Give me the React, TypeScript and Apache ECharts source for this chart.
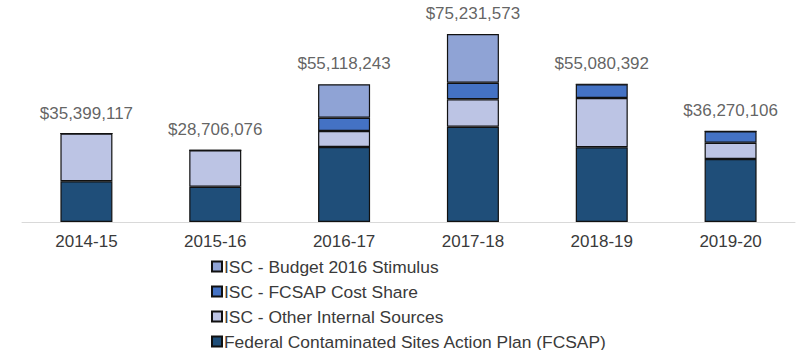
import React, { useEffect, useRef } from "react";
import * as echarts from "echarts";

const categories = ["2014-15", "2015-16", "2016-17", "2017-18", "2018-19", "2019-20"];
// values in millions of dollars
const fcsap = [16.3, 14.1, 30.0, 38.1, 29.9, 25.2];
const otherInternal = [19.1, 14.6, 6.4, 11.0, 19.7, 6.5];
const costShare = [0, 0, 5.3, 6.6, 5.5, 4.57];
const stimulus = [0, 0, 13.4, 19.5, 0, 0];
const totals = [35399117, 28706076, 55118243, 75231573, 55080392, 36270106];

const seriesNames = [
  "Federal Contaminated Sites Action Plan (FCSAP)",
  "ISC - Other Internal Sources",
  "ISC - FCSAP Cost Share",
  "ISC - Budget 2016 Stimulus",
];
const colors = ["#1f4e79", "#bcc4e4", "#4472c4", "#8fa3d5"];

export default function App() {
  const ref = useRef<HTMLDivElement>(null);
  useEffect(() => {
    document.body.style.margin = "0";
    if (!ref.current) return;
    const chart = echarts.init(ref.current, null, { renderer: "svg" });
    const datasets = [fcsap, otherInternal, costShare, stimulus];
    const fmt = (v: number) => "$" + v.toLocaleString("en-US");
    chart.setOption({
      animation: false,
      textStyle: { fontFamily: "Liberation Sans, Arial, sans-serif" },
      grid: { left: 22, right: 15, top: 22, bottom: 128 },
      legend: {
        data: [...seriesNames].reverse(),
        orient: "vertical",
        left: 211,
        top: 258,
        padding: 0,
        itemWidth: 10,
        itemHeight: 10,
        itemGap: 8,
        icon: "rect",
        textStyle: { fontSize: 17.4, color: "#3a3a3a", lineHeight: 16, padding: [0, 0, 0, -3] },
      },
      xAxis: {
        type: "category",
        data: categories,
        axisLine: { lineStyle: { color: "#d9d9d9", width: 1 } },
        axisTick: { show: false },
        axisLabel: { fontSize: 17, color: "#3a3a3a", margin: 11 },
      },
      yAxis: {
        type: "value",
        min: 0,
        max: 80,
        show: false,
        splitLine: { show: false },
      },
      series: [
        ...datasets.map((d, i) => ({
          name: seriesNames[i],
          type: "bar",
          stack: "total",
          barWidth: 52,
          data: d,
          itemStyle: { color: colors[i], borderColor: "#111111", borderWidth: 1.2 },
        })),
        {
          name: "Total",
          type: "scatter",
          symbolSize: 0,
          data: totals.map((t) => t / 1e6),
          label: {
            show: true,
            position: "top",
            distance: 12,
            fontSize: 17,
            color: "#3a3a3a",
            formatter: (p: any) => fmt(totals[p.dataIndex]),
          },
        },
      ],
    });
    return () => chart.dispose();
  }, []);
  return <div ref={ref} style={{ width: 810, height: 350 }} />;
}
